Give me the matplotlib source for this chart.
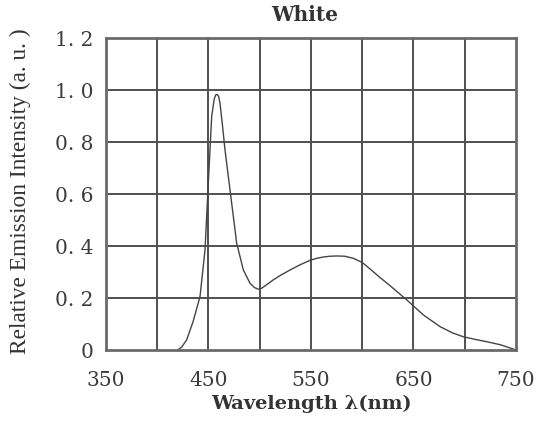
import matplotlib
matplotlib.use("Agg")
import matplotlib.pyplot as plt

# Data
wavelength = [420, 424, 428.7, 435, 441.7, 446.6, 449.8, 453.1, 455.5, 457, 458.5, 460, 461.2, 463.5,
              466.1, 471, 477.5, 484, 490.5, 495, 498.6, 502, 507, 513.2, 520, 529.5, 539.3, 549,
              555.6, 562, 568.5, 575, 583, 591.3, 600, 607.6, 617, 627, 643.4, 659.6, 675.9, 688,
              698.6, 710, 721.4, 735, 744, 750]
intensity = [0.0, 0.012, 0.039, 0.11, 0.205, 0.385, 0.642, 0.898, 0.965, 0.982, 0.984, 0.975, 0.95, 0.87,
             0.77, 0.616, 0.411, 0.308, 0.257, 0.240, 0.234, 0.238, 0.252, 0.27, 0.287, 0.308, 0.328, 0.345,
             0.353, 0.358, 0.361, 0.362, 0.361, 0.353, 0.337, 0.312, 0.28, 0.248, 0.193, 0.135, 0.09, 0.066,
             0.051, 0.041, 0.032, 0.02, 0.008, 0.0]

x_ticks = [350, 450, 550, 650, 750]
x_tick_labels = ["350", "450", "550", "650", "750"]
y_ticks = [0, 0.2, 0.4, 0.6, 0.8, 1.0, 1.2]
y_tick_labels = ["0", "0. 2", "0. 4", "0. 6", "0. 8", "1. 0", "1. 2"]
x_grid = [400, 450, 500, 550, 600, 650, 700]
title = "White"
x_label = "Wavelength λ(nm)"
y_label = "Relative Emission Intensity (a. u. )"

plt.rcParams['font.family'] = ['DejaVu Serif']

W, H = 538, 422
fig = plt.figure(figsize=(W/100, H/100), dpi=100)
ax = fig.add_axes([106/W, 1 - 350/H, 410/W, (350 - 38.3)/H])

ax.plot(wavelength, intensity, color='#444444', lw=1.0)

ax.set_xlim(350, 750)
ax.set_ylim(0, 1.2)

for gx in x_grid:
    ax.axvline(gx, color='#505050', lw=1.4, zorder=0)
for gy in y_ticks[1:-1]:
    ax.axhline(gy, color='#505050', lw=1.4, zorder=0)

ax.set_xticks(x_ticks)
ax.set_xticklabels(x_tick_labels)
ax.set_yticks(y_ticks)
ax.set_yticklabels(y_tick_labels)
ax.tick_params(length=0, labelsize=14.5, colors='#3c3c3c')
ax.tick_params(axis='x', pad=15)
ax.tick_params(axis='y', pad=9)

for s in ax.spines.values():
    s.set_color('#6a6a6a')
    s.set_linewidth(2.0)

fig.text(305/W, 1 - 15/H, title, fontsize=14.5, fontweight='bold', color='#333333',
         ha='center', va='center')
fig.text(311/W, 1 - 404/H, x_label, fontsize=14, fontweight='bold', color='#333333',
         ha='center', va='center')
fig.text(20/W, 1 - 191.5/H, y_label, fontsize=16.8, color='#333333', rotation=90,
         ha='center', va='center', family=['Liberation Serif', 'DejaVu Serif'])

fig.savefig("out.png", dpi=100)
